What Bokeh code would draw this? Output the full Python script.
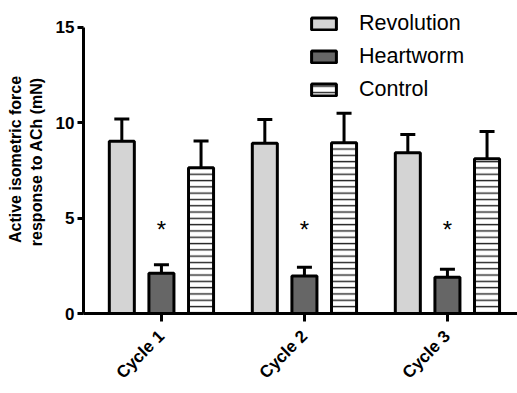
import numpy as np
from bokeh.plotting import figure
from bokeh.models import (ColumnDataSource, Range1d, FixedTicker, Legend, LegendItem,
                          Whisker, TeeHead)
from bokeh.core.properties import value
from bokeh.embed import file_html
from bokeh.resources import INLINE

# Data: mean active isometric force (mN) and SEM per treatment cycle
cycles = ["Cycle 1", "Cycle 2", "Cycle 3"]
revolution = [9.03, 8.93, 8.43]
revolution_err = [1.17, 1.24, 0.96]
heartworm = [2.11, 1.96, 1.90]
heartworm_err = [0.44, 0.47, 0.42]
control = [7.64, 8.95, 8.11]
control_err = [1.40, 1.55, 1.43]
star_level = [4.4, 4.4, 4.4]
y_ticks = [0, 5, 10, 15]

FONT = "Liberation Sans"
pos = np.arange(1, len(cycles) + 1)
offset = 0.277
bar_w = 0.175

p = figure(width=517, height=393, output_backend="svg", toolbar_location=None,
           x_range=Range1d(0.455, 3.49), y_range=Range1d(0, 16.15),
           min_border_left=83, min_border_right=0, min_border_top=5,
           min_border_bottom=80)
p.outline_line_color = None
p.xgrid.visible = False
p.ygrid.visible = False

series = [
    ("Revolution", revolution, revolution_err, -offset,
     dict(fill_color="#d4d4d4")),
    ("Heartworm", heartworm, heartworm_err, 0.0,
     dict(fill_color="#666666")),
    ("Control", control, control_err, offset,
     dict(fill_color="white", hatch_pattern="horizontal_line",
          hatch_scale=6.3, hatch_weight=1.4, hatch_color="#222222")),
]

items = []
for name, vals, errs, dx, style in series:
    src = ColumnDataSource(dict(x=pos + dx, top=vals,
                                upper=np.array(vals) + np.array(errs)))
    r = p.vbar(x="x", top="top", bottom=0, width=bar_w, source=src,
               line_color="black", line_width=3, **style)
    p.add_layout(Whisker(source=src, base="x", lower="top", upper="upper",
                         dimension="height", line_width=3, line_color="black",
                         lower_head=None,
                         upper_head=TeeHead(size=15, line_width=3,
                                            line_color="black")))
    items.append(LegendItem(label=name, renderers=[r]))

# significance markers over the heartworm bars
p.text(x=pos, y=star_level, text=["*"] * len(cycles),
       text_font=value(FONT), text_font_size="24px", text_color="black",
       text_align="center", text_baseline="middle")

legend = Legend(items=items, location=(225, 211), padding=0, margin=0,
                spacing=8, glyph_width=31, glyph_height=15, label_standoff=20,
                label_height=22, label_text_font=FONT, label_text_font_size="21.5px",
                label_text_color="black",
                border_line_alpha=0, background_fill_alpha=0)
p.add_layout(legend, "center")

# y axis
p.yaxis.ticker = FixedTicker(ticks=y_ticks)
p.yaxis.bounds = (0, 15)
p.yaxis.axis_line_width = 3
p.yaxis.axis_line_color = "black"
p.yaxis.major_tick_line_width = 3
p.yaxis.major_tick_line_color = "black"
p.yaxis.major_tick_out = 6
p.yaxis.major_tick_in = 0
p.yaxis.minor_tick_line_color = None
p.yaxis.major_label_text_font = FONT
p.yaxis.major_label_text_font_style = "bold"
p.yaxis.major_label_text_font_size = "17px"
p.yaxis.major_label_text_color = "black"
p.yaxis.major_label_standoff = 3
p.yaxis.axis_label = "Active isometric force\nresponse to ACh  (mN)"
p.yaxis.axis_label_text_font = FONT
p.yaxis.axis_label_text_font_style = "bold"
p.yaxis.axis_label_text_font_size = "16px"
p.yaxis.axis_label_text_color = "black"
p.yaxis.axis_label_standoff = 8

# x axis
p.xaxis.ticker = FixedTicker(ticks=list(pos))
p.xaxis.major_label_overrides = {int(k): c for k, c in zip(pos, cycles)}
p.xaxis.axis_line_width = 3
p.xaxis.axis_line_color = "black"
p.xaxis.major_tick_line_width = 3
p.xaxis.major_tick_line_color = "black"
p.xaxis.major_tick_out = 8
p.xaxis.major_tick_in = 0
p.xaxis.minor_tick_line_color = None
p.xaxis.major_label_orientation = np.pi / 4
p.xaxis.major_label_text_font = FONT
p.xaxis.major_label_text_font_style = "bold"
p.xaxis.major_label_text_font_size = "17px"
p.xaxis.major_label_text_color = "black"
p.xaxis.major_label_standoff = 12

open("out.html", "w").write(file_html(p, INLINE))
